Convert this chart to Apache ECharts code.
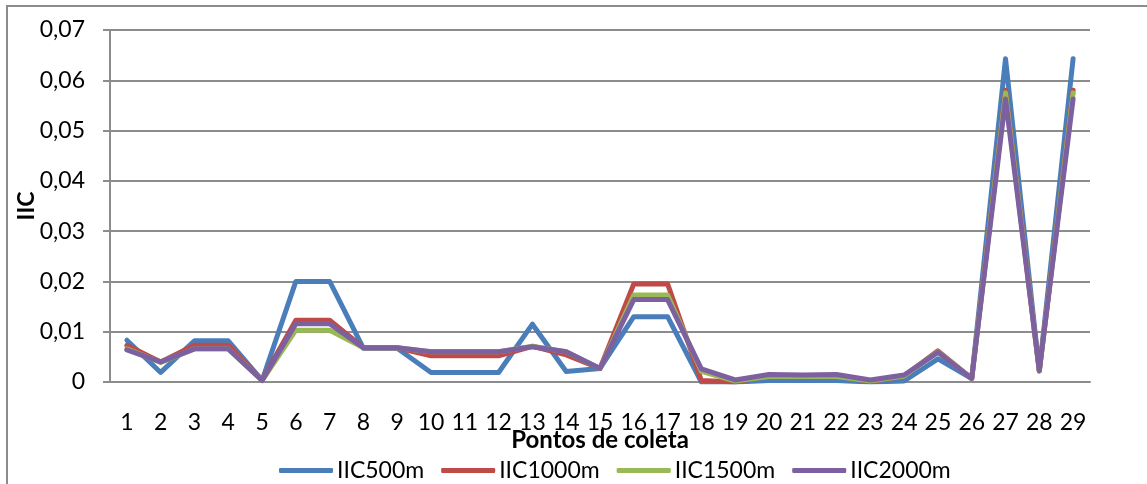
<!DOCTYPE html>
<html>
<head>
<meta charset="utf-8">
<script src="https://cdn.jsdelivr.net/npm/echarts@6/dist/echarts.min.js"></script>
<style>
  html, body { margin: 0; padding: 0; background: #fff; }
  #chart { width: 1147px; height: 484px; }
</style>
</head>
<body>
<div id="chart"></div>
<script>
var categories = ['1','2','3','4','5','6','7','8','9','10','11','12','13','14','15','16','17','18','19','20','21','22','23','24','25','26','27','28','29'];
var seriesNames = ['IIC500m', 'IIC1000m', 'IIC1500m', 'IIC2000m'];
var iic500 =  [0.0083, 0.0019, 0.0082, 0.0082, 0.0003, 0.0200, 0.0200, 0.0067, 0.0067, 0.0019, 0.0019, 0.0019, 0.0115, 0.0021, 0.0027, 0.0130, 0.0130, 0.0000, 0.0000, 0.0003, 0.0003, 0.0003, 0.0000, 0.0002, 0.0046, 0.0007, 0.0643, 0.0022, 0.0643];
var iic1000 = [0.0073, 0.0040, 0.0073, 0.0073, 0.0004, 0.0123, 0.0123, 0.0068, 0.0068, 0.0052, 0.0052, 0.0052, 0.0071, 0.0054, 0.0027, 0.0195, 0.0195, 0.0003, 0.0000, 0.0012, 0.0012, 0.0012, 0.0001, 0.0012, 0.0062, 0.0007, 0.0580, 0.0022, 0.0580];
var iic1500 = [0.0066, 0.0039, 0.0066, 0.0066, 0.0003, 0.0103, 0.0103, 0.0068, 0.0068, 0.0060, 0.0060, 0.0060, 0.0071, 0.0060, 0.0027, 0.0173, 0.0173, 0.0021, 0.0002, 0.0011, 0.0011, 0.0011, 0.0002, 0.0012, 0.0060, 0.0007, 0.0575, 0.0022, 0.0575];
var iic2000 = [0.0064, 0.0040, 0.0066, 0.0066, 0.0003, 0.0116, 0.0116, 0.0068, 0.0068, 0.0060, 0.0060, 0.0060, 0.0070, 0.0060, 0.0027, 0.0164, 0.0164, 0.0026, 0.0004, 0.0015, 0.0014, 0.0015, 0.0004, 0.0014, 0.0059, 0.0007, 0.0563, 0.0023, 0.0563];
var yTicks = { min: 0, max: 0.07, interval: 0.01 };
var colors = ['#4a7ebb', '#be4b48', '#98b954', '#7d60a0'];
var fontFam = 'Lato, "Open Sans", sans-serif';

var chart = echarts.init(document.getElementById('chart'), null, { renderer: 'canvas' });
var allData = [iic500, iic1000, iic1500, iic2000];
var series = seriesNames.map(function (n, i) {
  return {
    name: n,
    type: 'line',
    data: allData[i],
    symbol: 'none',
    smooth: false,
    z: 2 + i,
    lineStyle: { width: 5, color: colors[i], cap: 'round', join: 'round' },
    itemStyle: { color: colors[i] }
  };
});

chart.setOption({
  animation: false,
  color: colors,
  graphic: [{
    type: 'rect',
    shape: { x: 7, y: 6, width: 1300, height: 700 },
    style: { fill: 'none', stroke: '#8c8c8c', lineWidth: 2 },
    silent: true
  }],
  grid: { left: 110, right: 57, top: 30, bottom: 102, containLabel: false },
  legend: {
    data: seriesNames,
    left: 274,
    top: 454,
    icon: 'roundRect',
    itemWidth: 54,
    itemHeight: 5,
    itemGap: 17,
    textStyle: { fontFamily: fontFam, fontSize: 23, color: '#000', padding: [0, 0, 0, -1] }
  },
  xAxis: {
    type: 'category',
    data: categories,
    boundaryGap: true,
    name: 'Pontos de coleta',
    nameLocation: 'middle',
    nameMoveOverlap: false,
    nameGap: 46,
    nameTextStyle: { fontFamily: fontFam, fontSize: 24, fontWeight: 'bold', color: '#000' },
    axisLine: { show: true, lineStyle: { color: '#8c8c8c', width: 2 } },
    axisTick: { show: false },
    axisLabel: { fontFamily: fontFam, fontSize: 23, color: '#000', margin: 29, interval: 0 },
    splitLine: { show: false }
  },
  yAxis: {
    type: 'value',
    min: yTicks.min,
    max: yTicks.max,
    interval: yTicks.interval,
    name: 'IIC',
    nameLocation: 'middle',
    nameMoveOverlap: false,
    nameGap: 72,
    nameRotate: 90,
    nameTextStyle: { fontFamily: fontFam, fontSize: 23, fontWeight: 'bold', color: '#000' },
    axisLine: { show: true, lineStyle: { color: '#8c8c8c', width: 2 } },
    axisTick: { show: true, length: 7, lineStyle: { color: '#8c8c8c', width: 2 } },
    axisLabel: {
      fontFamily: fontFam, fontSize: 23, color: '#000', margin: 25,
      formatter: function (v) { return v === 0 ? '0' : v.toFixed(2).replace('.', ','); }
    },
    splitLine: { show: true, lineStyle: { color: '#8c8c8c', width: 2 } }
  },
  series: series
});
</script>
</body>
</html>
